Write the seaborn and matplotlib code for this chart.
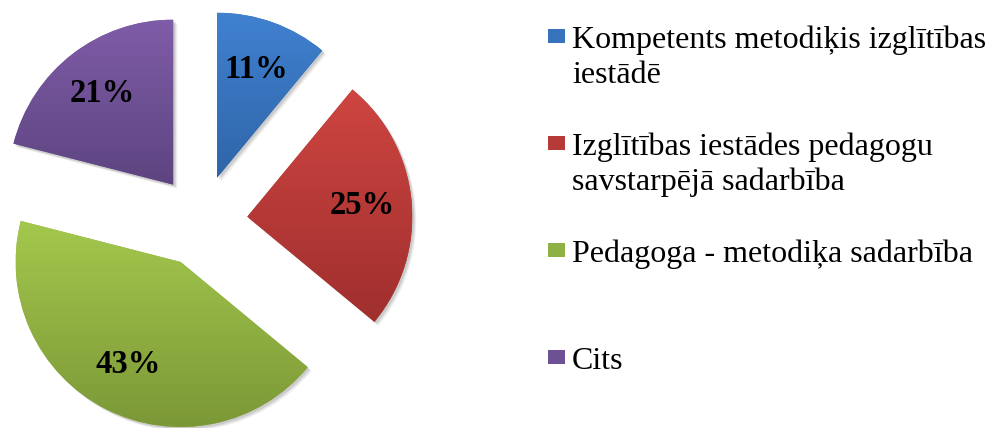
import numpy as np
import matplotlib
matplotlib.use("Agg")
import matplotlib.pyplot as plt
from matplotlib.patches import Rectangle, Wedge
import seaborn as sns

# ---- data ----
categories = [
    "Kompetents metodiķis izglītības\niestādē",
    "Izglītības iestādes pedagogu\nsavstarpējā sadarbība",
    "Pedagoga - metodiķa sadarbība",
    "Cits",
]
values = [11, 25, 43, 21]

# ---- style ----
sns.set_theme(style="white")
plt.rcParams["font.family"] = ["Liberation Serif", "DejaVu Serif"]

top_colors = ["#4081D0", "#CE4541", "#A4C84D", "#7F5CA8"]
bot_colors = ["#2F65A8", "#9F2F2E", "#7B9837", "#5D4480"]
mid_colors = [sns.blend_palette([t, b], 3)[1] for t, b in zip(top_colors, bot_colors)]

W, H = 990, 428
fig = plt.figure(figsize=(W / 100, H / 100), dpi=100)
ax = fig.add_axes([0, 0, 1, 1])

R = 165
center = (201.5, H - 221)
explode = [46] * len(values)  # absolute offset in data units (pixels here)

wedges, texts, autotexts = ax.pie(
    values,
    explode=explode,
    colors=mid_colors,
    startangle=90,
    counterclock=False,
    radius=R,
    center=center,
    autopct="%.0f%%",
    pctdistance=0.7,
    textprops=dict(fontsize=23.5, fontweight="bold", color="black"),
    wedgeprops=dict(linewidth=0),
)

# soft shadow (down-right) behind each slice
for w in wedges:
    for k, (dx, a) in enumerate([(4, 0.05), (3, 0.07), (2, 0.09)]):
        sh = Wedge((w.center[0] + dx, w.center[1] - dx), w.r, w.theta1, w.theta2,
                   facecolor="black", alpha=a, edgecolor="none", zorder=0.5)
        ax.add_patch(sh)

# vertical gradient fill per slice (Excel style)
for w, c1, c2 in zip(wedges, top_colors, bot_colors):
    bb = w.get_path().get_extents()
    cmap = sns.blend_palette([c2, c1], 256, as_cmap=True)
    grad = np.linspace(0, 1, 256).reshape(-1, 1)
    im = ax.imshow(grad, cmap=cmap, origin="lower", aspect="auto",
                   extent=(bb.x0, bb.x1, bb.y0, bb.y1), zorder=1.5,
                   interpolation="bilinear")
    im.set_clip_path(w)

for t in autotexts:
    t.set_zorder(5)

ax.set_xlim(0, W)
ax.set_ylim(0, H)
ax.set_aspect("auto")
ax.axis("off")

# ---- legend (Excel-like, evenly distributed entries) ----
leg_x_box = 548
leg_x_text = 572
first_baseline = 48
step = 107
line_gap = 35
fs = 23
for i, (lab, c1, c2) in enumerate(zip(categories, top_colors, bot_colors)):
    base = first_baseline + i * step
    ax.add_patch(Rectangle((leg_x_box, H - (base - 5)), 17, 14,
                           facecolor=sns.blend_palette([c1, c2], 3)[1],
                           edgecolor="none", clip_on=False))
    for j, line in enumerate(lab.split("\n")):
        ax.text(leg_x_text, H - (base + j * line_gap), line, fontsize=fs,
                ha="left", va="baseline", color="black")

fig.savefig("out.png", dpi=100, facecolor="white")
